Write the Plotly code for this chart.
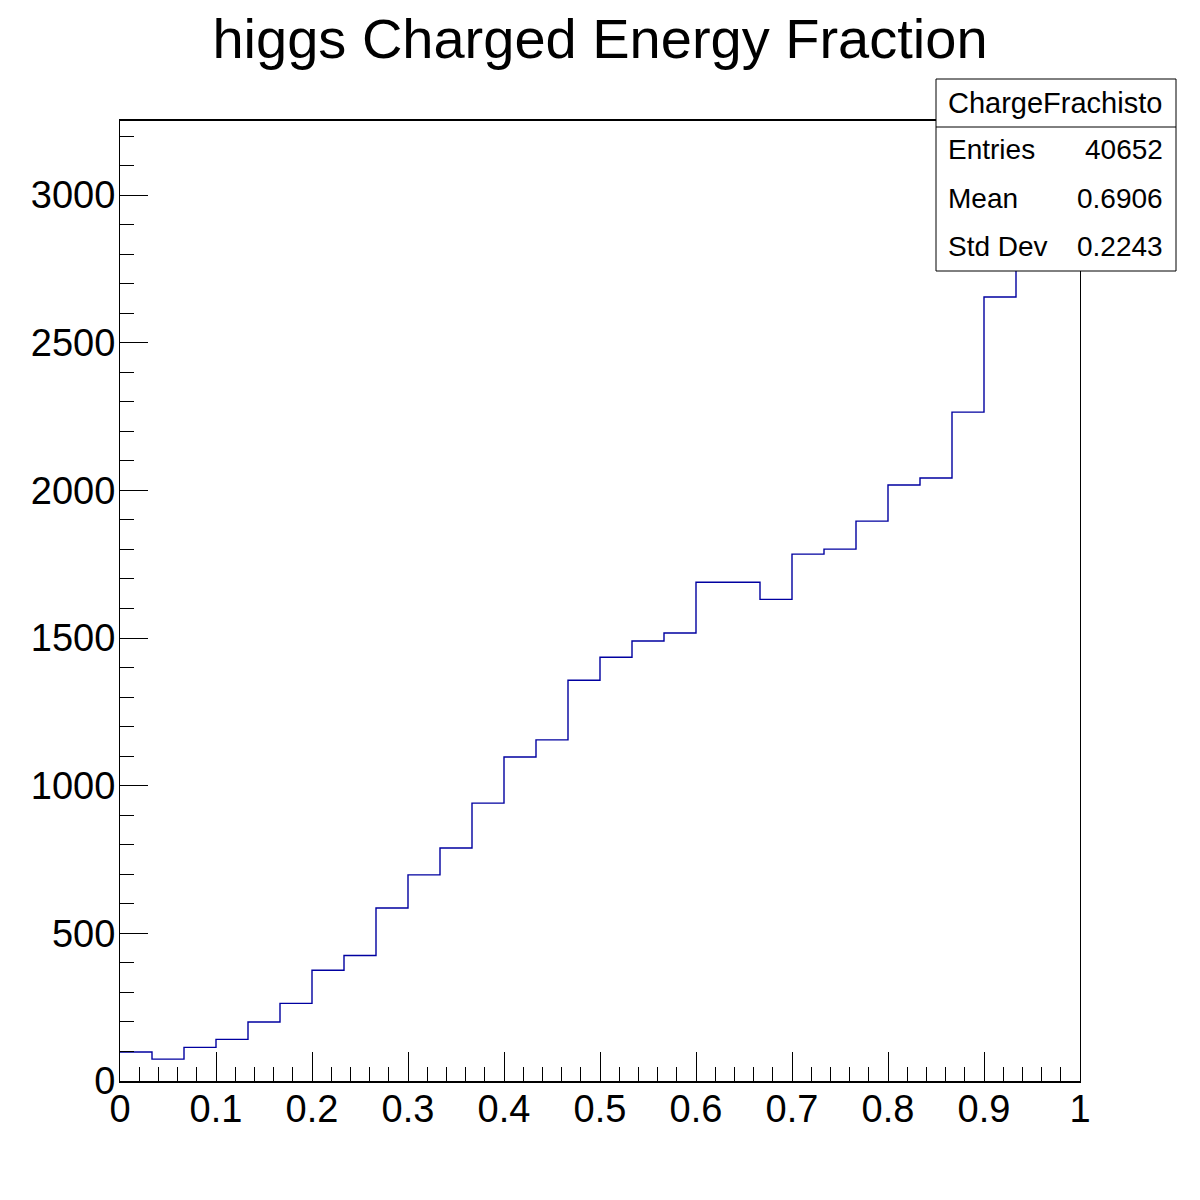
import numpy as np
import plotly.graph_objects as go

# histogram: 30 bins on [0, 1]
x_min, x_max, n_bins = 0.0, 1.0, 30
counts = [98, 74, 114, 141, 200, 263, 375, 425, 586, 698,
          789, 941, 1097, 1155, 1357, 1435, 1490, 1517, 1689, 1689,
          1631, 1784, 1801, 1896, 2018, 2042, 2265, 2655, 2956, 3096]

title_text = "higgs Charged Energy Fraction"
stats_name = "ChargeFrachisto"
stats_labels = ["Entries", "Mean", "Std Dev"]
stats_values = ["40652", "0.6906", "0.2243"]

edges = np.linspace(x_min, x_max, n_bins + 1)
y_top = 1.05 * max(counts)

FONT = "Liberation Sans, Arial, Helvetica, sans-serif"

fig = go.Figure()
fig.add_trace(go.Scatter(
    x=edges,
    y=counts + [counts[-1]],
    mode="lines",
    line=dict(color="#0000a0", width=1.4, shape="hv"),
    showlegend=False,
    hoverinfo="skip",
))

# page body adds ~8px offset, so margins are trimmed on the top/left
fig.update_layout(
    width=1200, height=1200, autosize=False,
    margin=dict(l=112, r=128, t=113, b=127),
    paper_bgcolor="white", plot_bgcolor="white",
    font=dict(family=FONT, color="black"),
    title=dict(text=title_text, x=0.5, xanchor="center", xref="paper",
               y=1 - 30 / 1200, yanchor="middle",
               font=dict(size=56, family=FONT, color="black")),
)

fig.update_xaxes(
    range=[x_min, x_max], dtick=0.1, tick0=0,
    ticks="inside", ticklen=29, tickwidth=1, tickcolor="black",
    minor=dict(dtick=0.02, ticks="inside", ticklen=14, tickwidth=1, tickcolor="black"),
    showline=True, linecolor="black", linewidth=1.5, mirror=True,
    showgrid=False, zeroline=False, ticklabelstandoff=-6,
    tickfont=dict(size=38, family=FONT, color="black"),
)
fig.update_yaxes(
    range=[0, y_top], dtick=500, tick0=0,
    ticks="inside", ticklen=28, tickwidth=1, tickcolor="black",
    minor=dict(dtick=100, ticks="inside", ticklen=14, tickwidth=1, tickcolor="black"),
    showline=True, linecolor="black", linewidth=1, mirror=True,
    showgrid=False, zeroline=False, ticklabelstandoff=-4,
    tickfont=dict(size=38, family=FONT, color="black"),
)

# stats box (paper coords; plot area spans 120..1080 px on screen)
def px_x(p):
    return (p - 120) / 960

def px_y(p):
    return (1080 - p) / 960

fig.add_shape(type="rect", xref="paper", yref="paper",
              x0=px_x(936), x1=px_x(1176), y0=px_y(270), y1=px_y(78),
              line=dict(color="black", width=1), fillcolor="white", layer="above")
fig.add_shape(type="line", xref="paper", yref="paper",
              x0=px_x(936), x1=px_x(1176), y0=px_y(126), y1=px_y(126),
              line=dict(color="black", width=1), layer="above")
fig.add_annotation(xref="paper", yref="paper", x=px_x(1055), y=px_y(102),
                   text=stats_name, showarrow=False, xanchor="center", yanchor="middle",
                   font=dict(size=29, family=FONT, color="black"))
for i, (lab, val) in enumerate(zip(stats_labels, stats_values)):
    yc = px_y(149 + 48 * i)
    fig.add_annotation(xref="paper", yref="paper", x=px_x(946), y=yc, text=lab,
                       showarrow=False, xanchor="left", yanchor="middle",
                       font=dict(size=28, family=FONT, color="black"))
    fig.add_annotation(xref="paper", yref="paper", x=px_x(1165), y=yc, text=val,
                       showarrow=False, xanchor="right", yanchor="middle",
                       font=dict(size=28, family=FONT, color="black"))

fig.write_html("out.html")
